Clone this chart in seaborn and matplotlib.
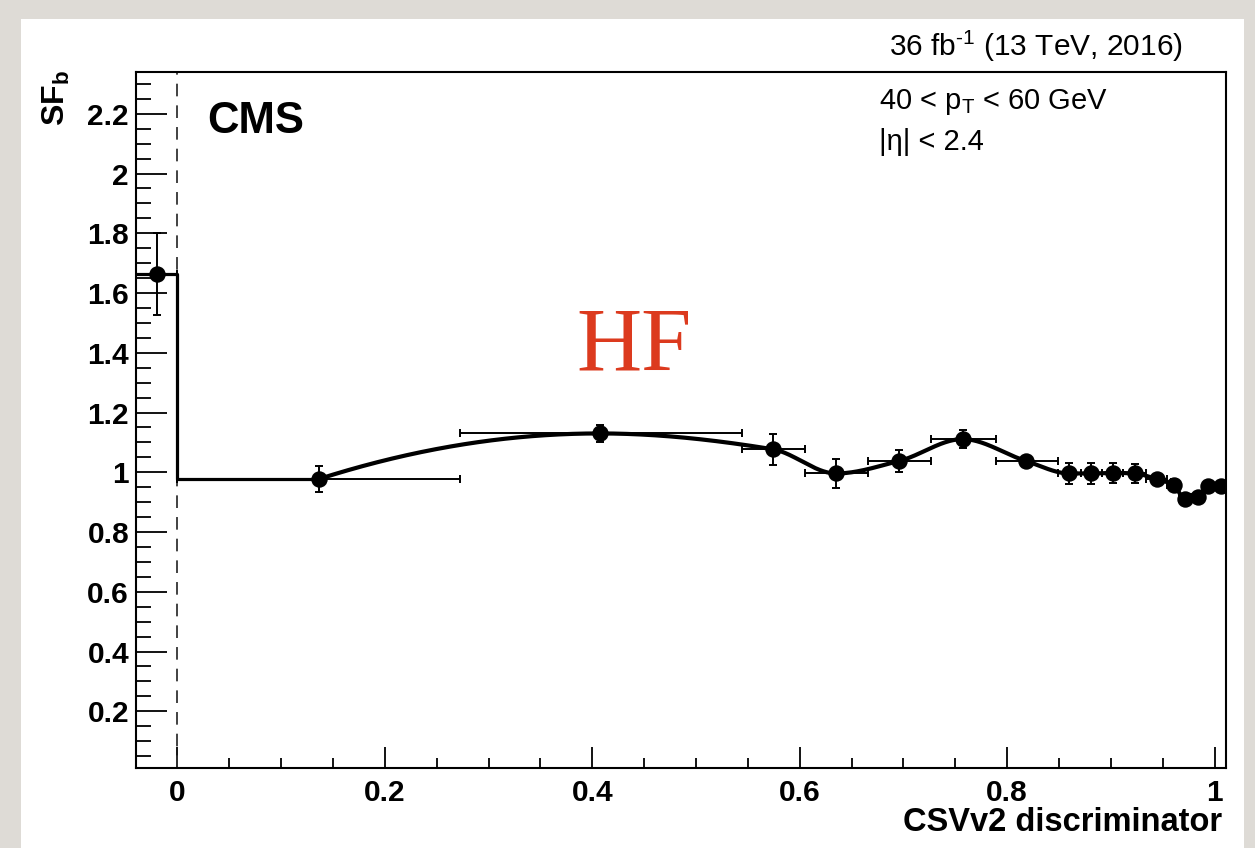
import numpy as np
import pandas as pd
import matplotlib
matplotlib.use("Agg")
import matplotlib.pyplot as plt
from matplotlib.patches import Rectangle
from matplotlib.ticker import MultipleLocator, FuncFormatter
import seaborn as sns

# ---------------- data ----------------
sf_x = [-0.020, 0.136, 0.407, 0.574, 0.635, 0.696, 0.757, 0.818, 0.860,
        0.881, 0.902, 0.923, 0.944, 0.961, 0.971, 0.984, 0.994, 1.006]
sf_y = [1.663, 0.977, 1.130, 1.077, 0.996, 1.038, 1.111, 1.038, 0.996,
        0.996, 0.998, 0.996, 0.977, 0.957, 0.910, 0.918, 0.955, 0.955]
sf_err = [0.137, 0.044, 0.028, 0.051, 0.048, 0.036, 0.030, 0.012, 0.036,
          0.035, 0.033, 0.033, 0.015, 0.020, 0.010, 0.010, 0.010, 0.010]
bin_lo = [-0.040, 0.000, 0.272, 0.544, 0.605, 0.666, 0.727, 0.789, 0.849,
          0.871, 0.891, 0.912, 0.934, 0.954, 0.966, 0.977, 0.989, 0.999]
bin_hi = [0.000, 0.272, 0.544, 0.605, 0.666, 0.727, 0.789, 0.849, 0.871,
          0.891, 0.912, 0.934, 0.954, 0.966, 0.977, 0.989, 0.999, 1.011]
x_ticks = [0, 0.2, 0.4, 0.6, 0.8, 1.0]
y_ticks = [0.2, 0.4, 0.6, 0.8, 1.0, 1.2, 1.4, 1.6, 1.8, 2.0, 2.2]

df = pd.DataFrame({"x": sf_x, "y": sf_y, "err": sf_err,
                   "lo": bin_lo, "hi": bin_hi})


def pchip(x, y, xq):
    """Monotone piecewise cubic Hermite interpolation (Fritsch-Carlson)."""
    x = np.asarray(x, float); y = np.asarray(y, float)
    h = np.diff(x); delta = np.diff(y) / h
    n = len(x); m = np.zeros(n)
    for k in range(1, n - 1):
        if delta[k - 1] * delta[k] > 0:
            w1 = 2 * h[k] + h[k - 1]; w2 = h[k] + 2 * h[k - 1]
            m[k] = (w1 + w2) / (w1 / delta[k - 1] + w2 / delta[k])

    def edge(h0, h1, d0, d1):
        d = ((2 * h0 + h1) * d0 - h0 * d1) / (h0 + h1)
        if np.sign(d) != np.sign(d0):
            d = 0.0
        elif np.sign(d0) != np.sign(d1) and abs(d) > abs(3 * d0):
            d = 3 * d0
        return d

    m[0] = edge(h[0], h[1], delta[0], delta[1])
    m[-1] = edge(h[-1], h[-2], delta[-1], delta[-2])
    idx = np.clip(np.searchsorted(x, xq) - 1, 0, n - 2)
    t = (xq - x[idx]) / h[idx]
    h00 = 2 * t ** 3 - 3 * t ** 2 + 1; h10 = t ** 3 - 2 * t ** 2 + t
    h01 = -2 * t ** 3 + 3 * t ** 2; h11 = t ** 3 - t ** 2
    return (h00 * y[idx] + h10 * h[idx] * m[idx] + h01 * y[idx + 1]
            + h11 * h[idx] * m[idx + 1])


# ---------------- style ----------------
sns.set_theme(style="ticks")
plt.rcParams["font.family"] = ["Liberation Sans", "DejaVu Sans"]
plt.rcParams["mathtext.fontset"] = "custom"
plt.rcParams["mathtext.rm"] = "Liberation Sans"
plt.rcParams["mathtext.it"] = "Liberation Sans:italic"
plt.rcParams["mathtext.bf"] = "Liberation Sans:bold"
plt.rcParams["text.color"] = "black"
plt.rcParams["xtick.color"] = "black"
plt.rcParams["ytick.color"] = "black"
plt.rcParams["xtick.labelcolor"] = "black"
plt.rcParams["ytick.labelcolor"] = "black"

W, H = 1255, 848
fig = plt.figure(figsize=(W / 100, H / 100), dpi=100)
fig.patch.set_facecolor("#dedbd6")
fig.patches.append(Rectangle((21 / W, 0), (1244 - 21) / W, 1 - 19 / H,
                             transform=fig.transFigure, facecolor="white",
                             edgecolor="none", zorder=-10))

ax = fig.add_axes([136 / W, 1 - 768 / H, (1226 - 136) / W, (768 - 72) / H])
ax.set_zorder(5)
ax.set_facecolor("white")
xmin, xmax = -0.040, 1.011
ax.set_xlim(xmin, xmax)
ax.set_ylim(0.010, 2.340)

# dashed line at 0
ax.axvline(0, color="#333333", lw=1.3, ls=(0, (7, 5)), zorder=1)

# step part
step_x = [xmin, 0, 0, sf_x[1]]
step_y = [sf_y[0], sf_y[0], sf_y[1], sf_y[1]]
ax.plot(step_x, step_y, color="black", lw=2.3, zorder=3)

# smooth curve through the points
xs = np.linspace(sf_x[1], sf_x[-1], 800)
ys = pchip(sf_x[1:], sf_y[1:], xs)
sns.lineplot(x=xs, y=ys, ax=ax, color="black", lw=3.0, sort=False, zorder=4)

# error bars
ax.errorbar(df["x"], df["y"], yerr=df["err"],
            xerr=[df["x"] - df["lo"], df["hi"] - df["x"]],
            fmt="none", ecolor="black", elinewidth=1.4, capsize=3,
            capthick=1.4, zorder=5)
sns.scatterplot(data=df, x="x", y="y", ax=ax, color="black", s=140,
                edgecolor="black", linewidth=0, zorder=6, legend=False)

# axes styling
for s in ax.spines.values():
    s.set_linewidth(1.5)
    s.set_color("black")
ax.set_xticks(x_ticks)
ax.set_yticks(y_ticks)
ax.xaxis.set_minor_locator(MultipleLocator(0.05))
ax.yaxis.set_minor_locator(MultipleLocator(0.05))
fmt = FuncFormatter(lambda v, p: "%g" % round(v, 2))
ax.xaxis.set_major_formatter(fmt)
ax.yaxis.set_major_formatter(fmt)
ax.tick_params(axis="both", which="both", direction="in", color="black",
               top=False, right=False)
ax.tick_params(axis="x", which="major", length=15, width=1.3, pad=8,
               labelsize=21.5)
ax.tick_params(axis="x", which="minor", length=7.5, width=1.3)
ax.tick_params(axis="y", which="major", length=22, width=1.3, pad=5,
               labelsize=21.5)
ax.tick_params(axis="y", which="minor", length=11, width=1.3)
for lab in ax.get_xticklabels() + ax.get_yticklabels():
    lab.set_fontweight("bold")
ax.set_xlabel("")
ax.set_ylabel("")

# texts
fig.text(1222 / W, 1 - 838 / H, "CSVv2 discriminator", ha="right",
         va="bottom", fontsize=23.5, fontweight="bold")
fig.text(56 / W, 1 - 70 / H, r"SF$_{\mathbf{b}}$", rotation=90, ha="center",
         va="top", fontsize=23, fontweight="bold")
fig.text(207 / W, 1 - 133 / H, "CMS", ha="left", va="baseline",
         fontsize=31.5, fontweight="bold", zorder=10)
fig.text(1183 / W, 1 - 56 / H, r"36 fb$^{\text{-1}}$ (13 TeV, 2016)", ha="right",
         va="baseline", fontsize=21.5)
fig.text(879 / W, 1 - 109 / H, r"40 < p$_{\mathrm{T}}$ < 60 GeV", ha="left",
         va="baseline", fontsize=21, zorder=10)
fig.text(879 / W, 1 - 150 / H, "|η| < 2.4", ha="left", va="baseline",
         fontsize=21, zorder=10)
fig.text(634 / W, 1 - 370 / H, "HF", ha="center", va="baseline",
         fontsize=65, color="#dc3a1e", family=["Liberation Serif", "DejaVu Serif"],
         zorder=10)

fig.savefig("out.png", dpi=100, facecolor=fig.get_facecolor())
